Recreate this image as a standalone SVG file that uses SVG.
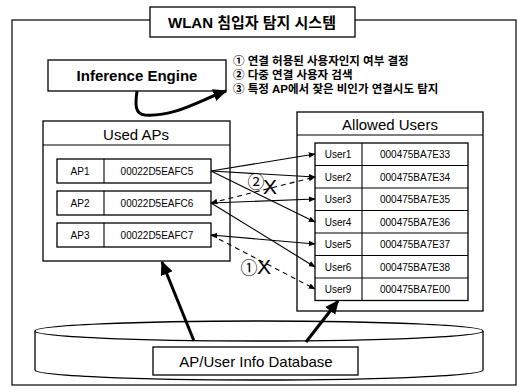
<svg xmlns="http://www.w3.org/2000/svg" width="521" height="392" viewBox="0 0 521 392">
<defs>
<marker id="ah" viewBox="0 0 10 10" refX="9" refY="5" markerWidth="7" markerHeight="7" orient="auto-start-reverse" markerUnits="userSpaceOnUse">
<path d="M0,1 L10,5 L0,9 Z" fill="#000"/>
</marker>
<marker id="big" viewBox="0 0 10 10" refX="9" refY="5" markerWidth="14" markerHeight="14" orient="auto" markerUnits="userSpaceOnUse">
<path d="M0,0.5 L10,5 L0,9.5 Z" fill="#000"/>
</marker>
<style>
text{font-family:"Liberation Sans","Noto Sans CJK KR",sans-serif;fill:#000}
.box{fill:#fff;stroke:#000;stroke-width:1.3}
.t{font-size:15px;text-anchor:middle;dominant-baseline:central}
.b{font-weight:bold}
.r{font-size:10px;text-anchor:middle;dominant-baseline:central}
.k{font-size:11.5px;font-weight:bold;dominant-baseline:central}
.ln{stroke:#000;stroke-width:1.1;fill:none}
.d{stroke-dasharray:5,4}
.thick{stroke:#000;stroke-width:3;fill:none}
.m{text-anchor:middle;dominant-baseline:central}
</style>
</defs>
<rect width="521" height="392" fill="#fff"/>
<g id="frame">
<rect x="12" y="20" width="504" height="365" fill="none" stroke="#000" stroke-width="1.2"/>
</g>
<g id="title">
<rect class="box" x="150" y="7" width="205" height="30" stroke-width="1.5"/>
<text class="t b" x="252" y="22" font-size="14">WLAN 침입자 탐지 시스템</text>
</g>
<g id="inference-engine">
<rect class="box" x="48" y="60" width="178" height="31" stroke-width="1.8"/>
<text class="t b" x="137" y="75" font-size="14.5">Inference Engine</text>
</g>
<g id="functions">
<text class="k" x="233" y="61">① 연결 허용된 사용자인지 여부 결정</text>
<text class="k" x="233" y="75">② 다중 연결 사용자 검색</text>
<text class="k" x="233" y="89">③ 특정 AP에서 잦은 비인가 연결시도 탐지</text>
</g>
<g id="used-aps">
<rect class="box" x="43" y="121" width="187" height="140"/>
<line class="ln" x1="43" y1="145" x2="230" y2="145"/>
<text class="t" x="136" y="134">Used APs</text>
<rect class="box" x="57" y="159" width="154" height="24"/>
<line class="ln" x1="104" y1="159" x2="104" y2="183"/>
<text class="r" x="80" y="171">AP1</text><text class="r" x="157" y="171">00022D5EAFC5</text>
<rect class="box" x="57" y="191" width="154" height="24"/>
<line class="ln" x1="104" y1="191" x2="104" y2="215"/>
<text class="r" x="80" y="203">AP2</text><text class="r" x="157" y="203">00022D5EAFC6</text>
<rect class="box" x="57" y="223" width="154" height="24"/>
<line class="ln" x1="104" y1="223" x2="104" y2="247"/>
<text class="r" x="80" y="235">AP3</text><text class="r" x="157" y="235">00022D5EAFC7</text>
</g>
<g id="allowed-users">
<rect class="box" x="297" y="112" width="186" height="199"/>
<line class="ln" x1="297" y1="135" x2="483" y2="135"/>
<text class="t" x="390" y="124">Allowed Users</text>
<rect class="box" x="315" y="143" width="153" height="157.5"/>
<line class="ln" x1="362" y1="143" x2="362" y2="300.5"/>
<line class="ln" x1="315" y1="165.5" x2="468" y2="165.5"/>
<line class="ln" x1="315" y1="188" x2="468" y2="188"/>
<line class="ln" x1="315" y1="210.5" x2="468" y2="210.5"/>
<line class="ln" x1="315" y1="233" x2="468" y2="233"/>
<line class="ln" x1="315" y1="255.5" x2="468" y2="255.5"/>
<line class="ln" x1="315" y1="278" x2="468" y2="278"/>
<text class="r" x="338" y="154">User1</text><text class="r" x="415" y="154">000475BA7E33</text>
<text class="r" x="338" y="177">User2</text><text class="r" x="415" y="177">000475BA7E34</text>
<text class="r" x="338" y="199">User3</text><text class="r" x="415" y="199">000475BA7E35</text>
<text class="r" x="338" y="222">User4</text><text class="r" x="415" y="222">000475BA7E36</text>
<text class="r" x="338" y="244">User5</text><text class="r" x="415" y="244">000475BA7E37</text>
<text class="r" x="338" y="267">User6</text><text class="r" x="415" y="267">000475BA7E38</text>
<text class="r" x="338" y="289">User9</text><text class="r" x="415" y="289">000475BA7E00</text>
</g>
<g id="database">
<path d="M35,331 L35,370 A224,10 0 0 0 483,370 L483,331" fill="#fff" stroke="#000" stroke-width="1.3"/>
<ellipse cx="259" cy="331" rx="224" ry="10" fill="#fff" stroke="#000" stroke-width="1.3"/>
<rect class="box" x="153" y="347" width="205" height="28"/>
<text class="t" x="256" y="361">AP/User Info Database</text>
</g>
<g id="connectors">
<path class="thick" d="M137,91 C135,105 135,114 145,115 C175,117 200,100 226,91" marker-end="url(#big)"/>
<line class="ln" x1="211" y1="171" x2="315" y2="154" marker-end="url(#ah)"/>
<line class="ln" x1="211" y1="171" x2="315" y2="177" marker-end="url(#ah)"/>
<line class="ln" x1="211" y1="171" x2="315" y2="222" marker-end="url(#ah)"/>
<line class="ln d" x1="211" y1="203" x2="315" y2="177" marker-start="url(#ah)" marker-end="url(#ah)"/>
<line class="ln" x1="211" y1="203" x2="315" y2="199" marker-end="url(#ah)"/>
<line class="ln" x1="211" y1="203" x2="315" y2="267" marker-end="url(#ah)"/>
<line class="ln" x1="211" y1="235" x2="315" y2="244" marker-start="url(#ah)" marker-end="url(#ah)"/>
<line class="ln d" x1="211" y1="235" x2="315" y2="289" marker-end="url(#ah)"/>
<line class="thick" x1="194" y1="341" x2="162" y2="262" marker-end="url(#big)"/>
<line class="thick" x1="306" y1="342" x2="338" y2="301" marker-end="url(#big)"/>
</g>
<g id="marks">
<text class="m" x="256" y="182" font-size="17">②</text>
<text class="m" x="270" y="186" font-size="21">X</text>
<text class="m" x="249" y="268" font-size="17">①</text>
<text class="m" x="264" y="266" font-size="21">X</text>
</g>
</svg>
